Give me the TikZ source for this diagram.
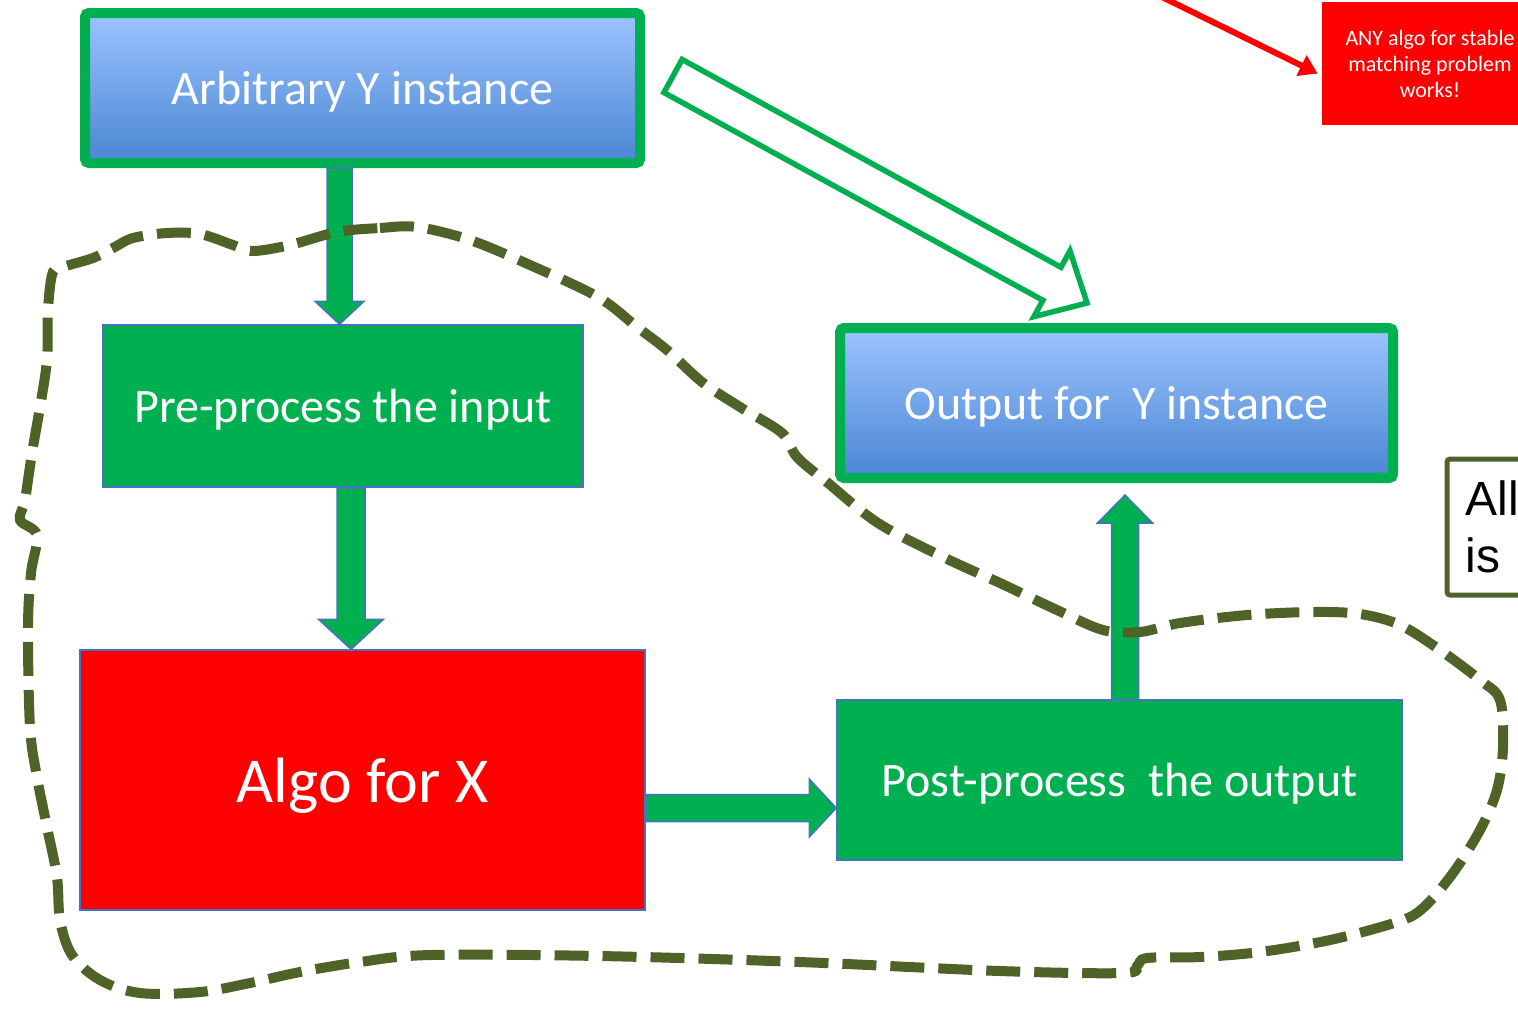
\documentclass[tikz,border=0pt]{standalone}
\usepackage{fontspec}
\setmainfont{Carlito}
\newfontfamily\arialfont{Liberation Sans}
\usetikzlibrary{calc, arrows.meta}

\definecolor{boxgreen}{HTML}{00B050}
\definecolor{edgeblue}{HTML}{4472C4}
\definecolor{lightblue}{HTML}{9CC3FF}
\definecolor{darkblue}{HTML}{4A86D3}
\definecolor{olive}{HTML}{4F6228}
\definecolor{alarmred}{HTML}{FF0000}

% block arrow: [style] {from}{to}{shaft width}{head width}{head length}
\newcommand{\blockarrow}[6][fatarrow]{%
  \draw[#1] let \p1=(#2), \p2=(#3),
      \n1={atan2(\y2-\y1,\x2-\x1)},
      \n2={veclen(\x2-\x1,\y2-\y1)-#6} in
    ($(\p1)+(\n1+90:{#4/2})$) --
    ($(\p1)+(\n1:{\n2*1pt})+(\n1+90:{#4/2})$) --
    ($(\p1)+(\n1:{\n2*1pt})+(\n1+90:{#5/2})$) --
    (\p2) --
    ($(\p1)+(\n1:{\n2*1pt})+(\n1-90:{#5/2})$) --
    ($(\p1)+(\n1:{\n2*1pt})+(\n1-90:{#4/2})$) --
    ($(\p1)+(\n1-90:{#4/2})$) -- cycle;}

\begin{document}
\begin{tikzpicture}[x=0.5pt, y=-0.5pt]
      \tikzstyle{every node}=[font=\fontsize{24}{28}\selectfont, text=white]
      \tikzstyle{label}=[text depth=0pt]
      \tikzstyle{instance}=[label, draw=boxgreen, line width=5pt, rounded corners=2pt, top color=lightblue, bottom color=darkblue, minimum height=75pt]
      \tikzstyle{process}=[label, fill=boxgreen, draw=edgeblue, line width=0.75pt]
      \tikzstyle{fatarrow}=[fill=boxgreen, draw=edgeblue, line width=0.75pt, line join=miter]
      \tikzstyle{hollowarrow}=[fill=white, draw=boxgreen, line width=2.75pt, line join=miter]
      \tikzstyle{redpointer}=[draw=alarmred, line width=3pt, -{Triangle[length=9pt, width=11pt]}]
      \tikzstyle{boundary}=[draw=olive, line width=5pt, dash pattern=on 17pt off 7pt]

      \useasboundingbox (0,0) rectangle (1518,1009);
      \clip (0,0) rectangle (1518,1009);

      % boxes
      \node [instance, minimum width=277.5pt] (arb) at (362.5,88) {Arbitrary Y instance};
      \node [instance, minimum width=276.5pt] (out) at (1116.5,403) {Output for~ Y instance};
      \node [process, minimum width=240pt, minimum height=81pt] (pre) at (343,406) {Pre-process the input};
      \node [process, fill=alarmred, minimum width=282.5pt, minimum height=130pt, font=\fontsize{32}{38}\selectfont] (algo) at (362.5,780) {Algo for X};
      \node [process, minimum width=282.5pt, minimum height=80pt] (post) at (1119.5,780) {Post-process~ the output};
      \node [fill=alarmred, minimum width=108pt, minimum height=61.5pt, align=center, font=\fontsize{11}{13}\selectfont] (anyalgo) at (1430,63.5) {ANY algo for stable\\matching problem\\works!};
      \node [draw=olive, line width=2.5pt, rounded corners=1.5pt, fill=white, text=black, minimum height=68pt, inner xsep=9.25pt, text width=38pt, align=left, font=\arialfont\fontsize{24}{28.5}\selectfont] (allbox) at (1503.5,527) {All\\is};

      % block arrows
      \coordinate (downa) at ([xshift=-1.75pt]pre.north);
      \coordinate (downb) at ([xshift=4pt]algo.north -| pre.south);
      \coordinate (rightb) at ([yshift=-14pt]post.west);
      \coordinate (upb) at ([xshift=4.25pt, yshift=-6pt]out.south);
      \blockarrow{downa |- arb.south}{downa}{12.5pt}{24.5pt}{11.5pt}
      \blockarrow{downb |- pre.south}{downb}{14pt}{32.5pt}{15pt}
      \blockarrow{rightb -| algo.east}{rightb}{13.5pt}{29pt}{13.5pt}
      \blockarrow{upb |- post.north}{upb}{13.5pt}{27.5pt}{14pt}
      \blockarrow[hollowarrow]{[shift={(14pt,6pt)}]arb.east}{[shift={(-14.75pt,10pt)}]out.north}{18.85pt}{37.5pt}{20pt}

      % pointer to the note
      \coordinate (redtail) at (1160,-4);
      \draw [redpointer] (redtail) -- ([shift={(-2pt,-5pt)}]anyalgo.west);

      % reduction boundary
      \draw [boundary] plot [smooth cycle, tension=0.55] coordinates {
        (337,232) (380,228) (417,227) (470,240) (530,265) (598,297) (637,327)
        (667,350) (702,382) (740,407) (782,433) (797,457) (828,483) (878,523)
        (943,557) (1000,583) (1057,610) (1103,630) (1140,632) (1180,623)
        (1247,615) (1313,612) (1360,614) (1400,625) (1440,650) (1480,680)
        (1500,700) (1503,747) (1497,790) (1480,830) (1453,873) (1423,908)
        (1397,922) (1330,940) (1260,952) (1200,957) (1147,958) (1137,966)
        (1123,973) (1000,971) (800,962) (600,956) (430,955) (360,962) (300,972)
        (250,983) (200,992) (140,993) (100,980) (72,955) (60,920) (57,877)
        (47,827) (37,777) (30,727) (28,627) (31,573) (37,535) (20,520) (25,500)
        (32,453) (40,407) (47,360) (48,310) (52,275) (60,268) (93,258) (113,248)
        (133,238) (167,233) (200,234) (233,245) (253,251) (290,245)};
    \end{tikzpicture}
\end{document}
